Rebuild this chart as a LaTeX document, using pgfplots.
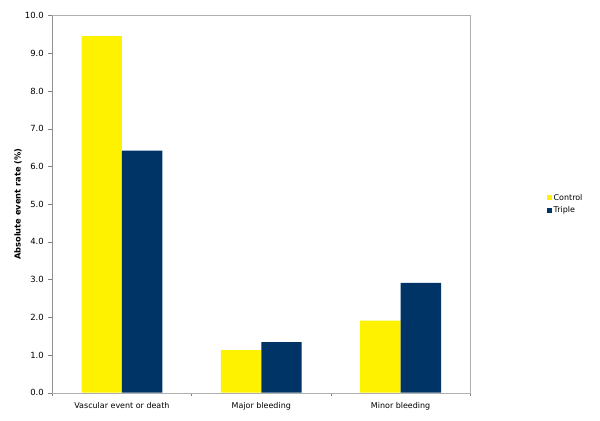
\documentclass[border=0pt]{standalone}
\usepackage{fontspec}
\setmainfont{DejaVu Sans}
\usepackage{pgfplots}
\pgfplotsset{compat=1.18}

\definecolor{ctrlyellow}{HTML}{FFF200}
\definecolor{triplenavy}{HTML}{003366}
\definecolor{axisgray}{HTML}{808080}
\definecolor{boxgray}{HTML}{B0B0B0}

\begin{document}
\begin{tikzpicture}
\begin{axis}[
    at={(52.3bp,28.3bp)},
    anchor=south west,
    scale only axis,
    width=418bp,
    height=377bp,
    ybar=0pt,
    bar width=0.29,
    xmin=-0.5, xmax=2.5,
    ymin=0, ymax=10,
    xtick={0,1,2},
    xticklabels={Vascular event or death,Major bleeding,Minor bleeding},
    major x tick style={draw=none},
    minor xtick={-0.5,0.5,1.5,2.5},
    minor x tick style={draw=axisgray, thin},
    minor tick length=3bp,
    xtick pos=bottom,
    ytick={0,1,...,10},
    ytick pos=left,
    tick align=outside,
    major tick length=4bp,
    y tick style={draw=axisgray, thin},
    y tick label style={/pgf/number format/fixed, /pgf/number format/fixed zerofill, /pgf/number format/precision=1},
    /pgf/number format/assume math mode=true,
    tick label style={text=black},
    xticklabel style={yshift=-2bp, font=\fontsize{8}{9.6}\selectfont},
    yticklabel style={xshift=-1bp, font=\fontsize{8.5}{10}\selectfont},
    axis line style={draw=boxgray, thin},
    ylabel={\bfseries Absolute event rate (\%)},
    ylabel style={at={(axis description cs:-0.082,0.5)}, anchor=center, font=\fontsize{8.3}{10}\selectfont},
    legend style={at={(1.175,0.5)}, anchor=west, draw=none, fill=none,
        font=\fontsize{8}{9.6}\selectfont, row sep=1bp,
        legend cell align=left},
    legend image code/.code={\fill[#1] (0bp,-2.5bp) rectangle (5bp,2.5bp);},
]
\addplot[fill=ctrlyellow, draw=none] coordinates {(0,9.46) (1,1.13) (2,1.91)};
\addplot[fill=triplenavy, draw=none] coordinates {(0,6.42) (1,1.34) (2,2.91)};
\legend{Control,Triple}
\draw[axisgray, thin] (rel axis cs:0,1) -- (rel axis cs:0,0) -- (rel axis cs:1,0);
\end{axis}
\pgfresetboundingbox
\useasboundingbox (0,0) rectangle (600bp,421bp);
\end{tikzpicture}
\end{document}
